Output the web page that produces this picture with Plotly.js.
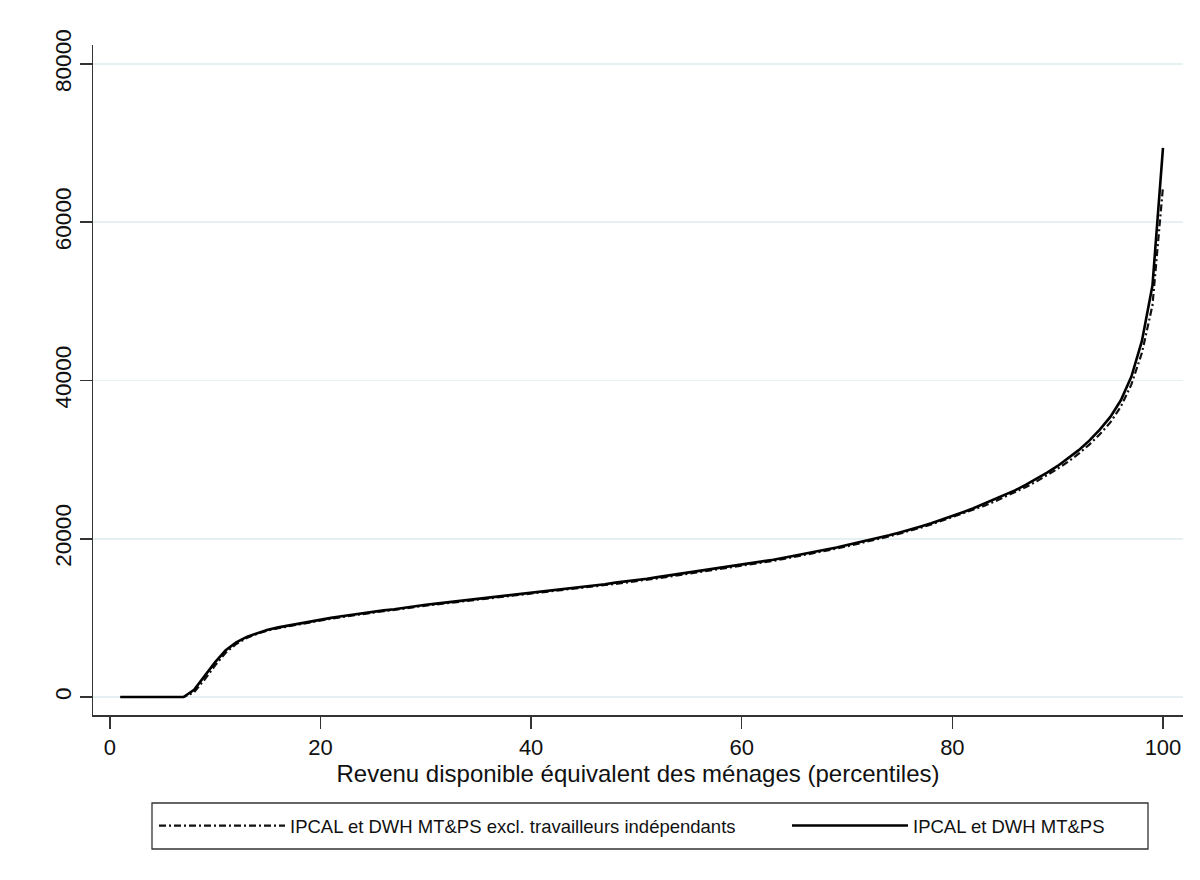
<!DOCTYPE html>
<html>
<head>
<meta charset="utf-8">
<script src="https://cdn.plot.ly/plotly-3.0.1.min.js"></script>
<style>html,body{margin:0;padding:0;background:#fff;}#chart{width:1200px;height:880px;}</style>
</head>
<body>
<div id="chart"></div>
<script>
const percentiles = [1,2,3,4,5,6,7,8,9,10,11,12,13,14,15,16,17,18,19,20,21,22,23,24,25,26,27,28,29,30,31,32,33,34,35,36,37,38,39,40,41,42,43,44,45,46,47,48,49,50,51,52,53,54,55,56,57,58,59,60,61,62,63,64,65,66,67,68,69,70,71,72,73,74,75,76,77,78,79,80,81,82,83,84,85,86,87,88,89,90,91,92,93,94,95,96,97,98,99,100];

const seriesAll = [0,0,0,0,0,0,0,900,2600,4400,5900,6900,7600,8100,8500,8800,9050,9300,9550,9800,10000,10200,10400,10600,10800,10950,11100,11300,11450,11650,11800,11950,12100,12250,12400,12550,12700,12850,13000,13150,13300,13450,13600,13800,13950,14100,14250,14450,14600,14800,14950,15150,15350,15550,15700,15900,16100,16300,16500,16700,16900,17150,17350,17600,17850,18100,18350,18600,18900,19200,19500,19800,20100,20450,20800,21150,21550,21950,22400,22900,23350,23850,24400,24950,25550,26150,26850,27550,28350,29200,30150,31200,32400,33800,35400,37500,40500,45000,52000,69400];

const seriesExcl = [0,0,0,0,0,0,0,600,2200,4000,5600,6700,7450,8000,8400,8700,8950,9200,9450,9700,9900,10100,10300,10500,10700,10850,11000,11200,11350,11550,11700,11850,12000,12150,12300,12450,12600,12750,12900,13050,13200,13350,13500,13650,13800,13950,14100,14300,14450,14650,14800,15000,15200,15400,15550,15750,15950,16150,16350,16550,16750,17000,17200,17450,17700,17950,18200,18450,18750,19050,19350,19650,19950,20300,20650,21000,21400,21800,22250,22700,23150,23650,24150,24700,25300,25900,26550,27250,28000,28850,29750,30750,31900,33200,34700,36700,39500,43500,49500,64500];

const xTickVals = [0,20,40,60,80,100];
const yTickVals = [0,20000,40000,60000,80000];

const labelExcl = "IPCAL et DWH MT&PS excl. travailleurs indépendants";
const labelAll = "IPCAL et DWH MT&PS";
const xTitle = "Revenu disponible équivalent des ménages (percentiles)";

const FONT = "'Liberation Sans', Arial, sans-serif";

const traces = [
  {x: percentiles, y: seriesExcl, type: 'scatter', mode: 'lines', name: labelExcl, legend: 'legend',
   line: {color: '#111', width: 2.2, dash: '7px,3px,2px,3px'}},
  {x: percentiles, y: seriesAll, type: 'scatter', mode: 'lines', name: labelAll, legend: 'legend2',
   line: {color: '#000', width: 2.6}}
];

const legendCommon = {
  orientation: 'h', xref: 'container', yref: 'container', yanchor: 'middle', xanchor: 'left',
  borderwidth: 0, bgcolor: 'rgba(0,0,0,0)',
  font: {family: FONT, size: 18.5, color: '#111'}
};

const layout = {
  width: 1200, height: 880,
  paper_bgcolor: '#fff', plot_bgcolor: '#fff',
  margin: {l: 93, r: 17, t: 45, b: 165},
  font: {family: FONT, size: 20, color: '#111'},
  showlegend: true,
  legend: Object.assign({}, legendCommon, {x: 154/1200, y: 1 - 826/880, itemwidth: 126}),
  legend2: Object.assign({}, legendCommon, {x: 787/1200, y: 1 - 826/880, itemwidth: 116}),
  shapes: [
    {type: 'rect', xref: 'paper', yref: 'paper', layer: 'above',
     x0: (152-93)/1090, x1: (1148-93)/1090, y0: (715-803)/670, y1: (715-849)/670,
     line: {color: '#333', width: 1.3}, fillcolor: 'rgba(0,0,0,0)'}
  ],
  xaxis: {
    range: [-1.6, 101.9], tickvals: xTickVals, ticktext: xTickVals.map(String),
    showline: true, linecolor: '#333', linewidth: 1.5,
    ticks: 'outside', ticklen: 12, tickwidth: 1.5, tickcolor: '#333',
    showgrid: false, zeroline: false,
    tickfont: {family: FONT, size: 22, color: '#111'},
    title: {text: xTitle, font: {family: FONT, size: 24, color: '#111'}, standoff: 2}
  },
  yaxis: {
    range: [-2275, 82400], tickvals: yTickVals, ticktext: yTickVals.map(String),
    tickangle: -90,
    showline: true, linecolor: '#333', linewidth: 1.5,
    ticks: 'outside', ticklen: 12, tickwidth: 1.5, tickcolor: '#333',
    showgrid: true, gridcolor: '#e6eff1', gridwidth: 1.5, zeroline: false,
    tickfont: {family: FONT, size: 22.5, color: '#111'}
  }
};

Plotly.newPlot('chart', traces, layout, {displayModeBar: false, staticPlot: true});
</script>
</body>
</html>
